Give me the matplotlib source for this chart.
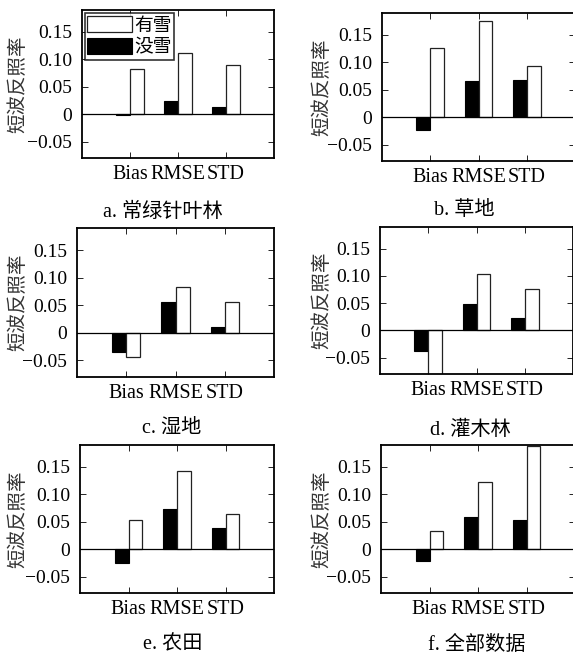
import matplotlib
matplotlib.use("Agg")
import matplotlib.pyplot as plt
import numpy as np

metrics = ["Bias", "RMSE", "STD"]

# 没雪 (black) / 有雪 (white) per land-cover type
no_snow_a = [-0.002, 0.024, 0.013]
snow_a = [0.083, 0.111, 0.089]
no_snow_b = [-0.024, 0.066, 0.068]
snow_b = [0.126, 0.175, 0.094]
no_snow_c = [-0.034, 0.056, 0.011]
snow_c = [-0.043, 0.083, 0.056]
no_snow_d = [-0.038, 0.048, 0.023]
snow_d = [-0.085, 0.103, 0.076]
no_snow_e = [-0.026, 0.073, 0.038]
snow_e = [0.054, 0.143, 0.064]
no_snow_f = [-0.022, 0.058, 0.054]
snow_f = [0.034, 0.122, 0.188]

captions = ["a. 常绿针叶林", "b. 草地", "c. 湿地", "d. 灌木林", "e. 农田", "f. 全部数据"]
yticks = [-0.05, 0, 0.05, 0.10, 0.15]
ytick_labels = ["\u22120.05", "0", "0.05", "0.10", "0.15"]

W, H = 573, 655
SERIF = ["Liberation Serif", "Noto Sans CJK SC"]
CJK = ["Noto Sans CJK SC", "DejaVu Sans"]

# axes boxes in pixels: left, right, top, bottom
boxes = [
    (82, 274, 10, 158),
    (382, 575, 13, 161),
    (77, 274, 228, 377),
    (380, 573, 227, 374),
    (80, 274, 445, 593),
    (381, 575, 445, 593),
]
# caption centres in pixels
cap_pos = [(163, 212), (464, 211), (172, 428), (470, 430), (173, 645), (477, 645)]

data = [
    (no_snow_a, snow_a), (no_snow_b, snow_b), (no_snow_c, snow_c),
    (no_snow_d, snow_d), (no_snow_e, snow_e), (no_snow_f, snow_f),
]

fig = plt.figure(figsize=(W / 100, H / 100), dpi=100)
x = np.arange(1, len(metrics) + 1)
bw = 0.286

for i, ((l, r, t, b), (ns, sn)) in enumerate(zip(boxes, data)):
    ax = fig.add_axes([l / W, 1 - b / H, (r - l) / W, (b - t) / H])
    h_ns = ax.bar(x - bw / 2, ns, bw, color="black", edgecolor="black", linewidth=0.8, zorder=2)
    h_sn = ax.bar(x + bw / 2, sn, bw, color="white", edgecolor="#222222", linewidth=0.9, zorder=2)
    ax.axhline(0, color="black", linewidth=0.9, zorder=3)
    ax.set_xlim(0, 4)
    ax.set_ylim(-0.08, 0.19)
    ax.set_xticks(x)
    ax.set_xticklabels(metrics, family=SERIF, fontsize=14.5)
    ax.set_yticks(yticks)
    ax.set_yticklabels(ytick_labels, family=SERIF, fontsize=14)
    ax.tick_params(direction="in", length=4, width=0.6, top=True, right=True)
    ax.tick_params(axis="y", pad=7)
    ax.tick_params(axis="x", pad=5)
    for s in ax.spines.values():
        s.set_linewidth(1.3)
    ax.set_ylabel("短波反照率", family=CJK, fontsize=14, color="#333333")
    # right edge of the y label at a fixed pixel column per figure column
    lab_x = 28 if l < 200 else 332
    ax.yaxis.set_label_coords((lab_x - l) / (r - l), 0.5)
    if i == 0:
        leg = ax.legend([h_sn, h_ns], ["有雪", "没雪"], loc="upper left", prop={"family": CJK, "size": 13.5},
                        frameon=True, fancybox=False, edgecolor="black", borderpad=0.1,
                        handlelength=2.4, handleheight=0.9, handletextpad=0.15, labelspacing=0.05,
                        borderaxespad=0.15)
        leg.get_frame().set_linewidth(1.2)
    cx, cy = cap_pos[i]
    fig.text(cx / W, 1 - cy / H, captions[i], ha="center", va="center", family=SERIF, fontsize=14.5)

fig.savefig("out.png", dpi=100)
